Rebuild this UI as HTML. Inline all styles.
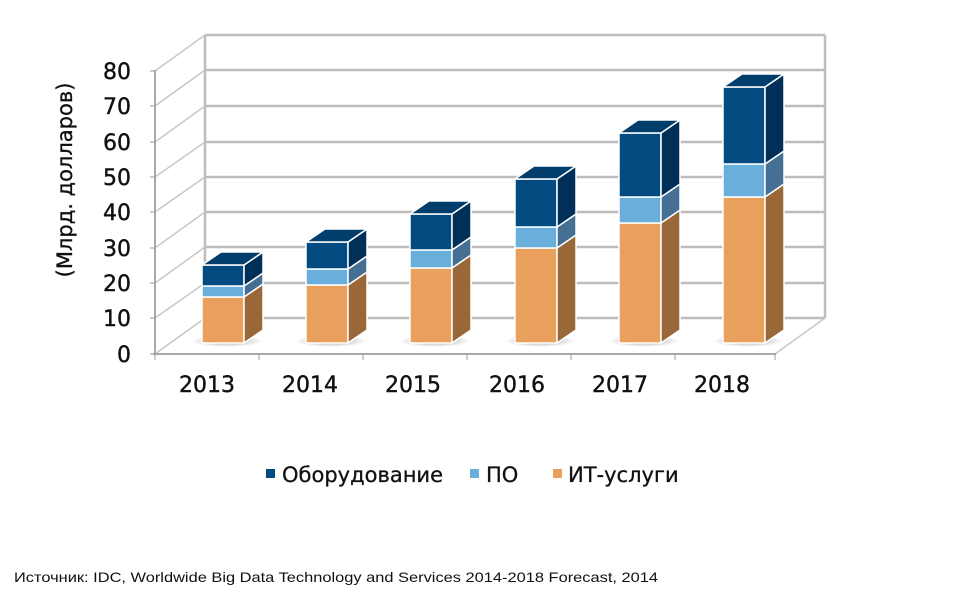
<!DOCTYPE html>
<html><head><meta charset="utf-8"><style>
body{margin:0;background:#fff;width:970px;height:609px;overflow:hidden}
text{font-family:"DejaVu Sans","Liberation Sans",sans-serif}
</style></head><body>
<svg width="970" height="609" viewBox="0 0 970 609" xmlns="http://www.w3.org/2000/svg">
<defs>
<radialGradient id="sh" cx="50%" cy="50%" r="50%"><stop offset="0" stop-color="#888" stop-opacity="0.8"/><stop offset="1" stop-color="#888" stop-opacity="0"/></radialGradient>
</defs>
<g stroke="#bdbdbd" stroke-width="2.5" fill="none">
<line x1="205" y1="35" x2="825" y2="35"/>
<line x1="205" y1="35" x2="205" y2="318"/>
<line x1="825" y1="35" x2="825" y2="318"/>
<line x1="205" y1="70" x2="825" y2="70"/>
<line x1="205" y1="106" x2="825" y2="106"/>
<line x1="205" y1="142" x2="825" y2="142"/>
<line x1="205" y1="177" x2="825" y2="177"/>
<line x1="205" y1="212" x2="825" y2="212"/>
<line x1="205" y1="247" x2="825" y2="247"/>
<line x1="205" y1="283" x2="825" y2="283"/>
<line x1="205" y1="318" x2="825" y2="318"/>
</g>
<g stroke="#c8c8c8" stroke-width="1.5" fill="none">
<line x1="155" y1="71" x2="205" y2="35"/>
<line x1="155" y1="106" x2="205" y2="70"/>
<line x1="155" y1="142" x2="205" y2="106"/>
<line x1="155" y1="177" x2="205" y2="142"/>
<line x1="155" y1="212" x2="205" y2="177"/>
<line x1="155" y1="248" x2="205" y2="212"/>
<line x1="155" y1="283" x2="205" y2="247"/>
<line x1="155" y1="318" x2="205" y2="283"/>
<line x1="155" y1="354" x2="205" y2="318"/>
<line x1="775" y1="354" x2="825" y2="318"/>
</g>
<g stroke="#a8a8a8" stroke-width="2" fill="none">
<line x1="155" y1="70" x2="155" y2="354"/>
<line x1="153" y1="354" x2="776" y2="354"/>
</g>
<g stroke="#999" stroke-width="1">
<line x1="150" y1="71" x2="155" y2="71"/><line x1="150" y1="106" x2="155" y2="106"/><line x1="150" y1="142" x2="155" y2="142"/><line x1="150" y1="177" x2="155" y2="177"/><line x1="150" y1="212" x2="155" y2="212"/><line x1="150" y1="248" x2="155" y2="248"/><line x1="150" y1="283" x2="155" y2="283"/><line x1="150" y1="318" x2="155" y2="318"/><line x1="150" y1="354" x2="155" y2="354"/>
<line x1="155" y1="354" x2="155" y2="360"/><line x1="259" y1="354" x2="259" y2="360"/><line x1="363" y1="354" x2="363" y2="360"/><line x1="467" y1="354" x2="467" y2="360"/><line x1="571" y1="354" x2="571" y2="360"/><line x1="675" y1="354" x2="675" y2="360"/><line x1="775" y1="354" x2="775" y2="360"/>
</g>
<g id="bars" stroke="#fff" stroke-width="1.5" stroke-linejoin="round"></g>
<script>
var data=[[202,297,286,265],[306,285,269,242],[410,268,250,214],[515,248,227,179],[619,223,197,133],[723,197,164,87]];
var g=document.getElementById('bars'),ns='http://www.w3.org/2000/svg',B=343,W=42,DX=19,DY=13;
function poly(pts,fill){var p=document.createElementNS(ns,'polygon');p.setAttribute('points',pts);p.setAttribute('fill',fill);g.appendChild(p);}
function el(n,a){var e=document.createElementNS(ns,n);for(var k in a)e.setAttribute(k,a[k]);g.appendChild(e);}
data.forEach(function(d){var x=d[0];
el('ellipse',{cx:x+W/2+4,cy:B-2,rx:W/2+14,ry:6,fill:'url(#sh)',stroke:'none'});
var segs=[[B,d[1],'#E8A05C','#9A6838'],[d[1],d[2],'#6AAEDC','#457094'],[d[2],d[3],'#024A80','#003058']];
segs.forEach(function(s){var y0=s[0],y1=s[1];
poly(x+','+y0+' '+(x+W)+','+y0+' '+(x+W)+','+y1+' '+x+','+y1,s[2]);
poly((x+W)+','+y0+' '+(x+W+DX)+','+(y0-DY)+' '+(x+W+DX)+','+(y1-DY)+' '+(x+W)+','+y1,s[3]);});
poly(x+','+d[3]+' '+(x+W)+','+d[3]+' '+(x+W+DX)+','+(d[3]-DY)+' '+(x+DX)+','+(d[3]-DY),'#023E6C');
});
</script>
<g font-size="22" fill="#111" text-anchor="end" stroke="#111" stroke-width="0.4">
<text x="131" y="79">80</text><text x="131" y="114">70</text><text x="131" y="150">60</text><text x="131" y="185">50</text><text x="131" y="220">40</text><text x="131" y="256">30</text><text x="131" y="291">20</text><text x="131" y="326">10</text><text x="131" y="362">0</text>
</g>
<text transform="translate(72,180) rotate(-90)" font-size="21" fill="#111" text-anchor="middle" stroke="#111" stroke-width="0.3">(Млрд. долларов)</text>
<g font-size="22" fill="#111" text-anchor="middle" stroke="#111" stroke-width="0.4">
<text x="207" y="392">2013</text><text x="310" y="392">2014</text><text x="413" y="392">2015</text><text x="517" y="392">2016</text><text x="620" y="392">2017</text><text x="722" y="392">2018</text>
</g>
<rect x="266" y="469" width="9" height="9" fill="#024A80"/>
<text x="282" y="482" font-size="21" fill="#111" stroke="#111" stroke-width="0.3">Оборудование</text>
<rect x="470" y="469" width="9" height="9" fill="#6AAEDC"/>
<text x="486" y="482" font-size="21" fill="#111" stroke="#111" stroke-width="0.3">ПО</text>
<rect x="553" y="469" width="9" height="9" fill="#E8A05C"/>
<text x="568" y="482" font-size="21" fill="#111" stroke="#111" stroke-width="0.3">ИТ-услуги</text>
<text x="14" y="582" font-size="14" fill="#111" textLength="644" lengthAdjust="spacingAndGlyphs" style='font-family:"Liberation Sans",sans-serif'>Источник: IDC, Worldwide Big Data Technology and Services 2014-2018 Forecast, 2014</text>
</svg>
</body></html>
